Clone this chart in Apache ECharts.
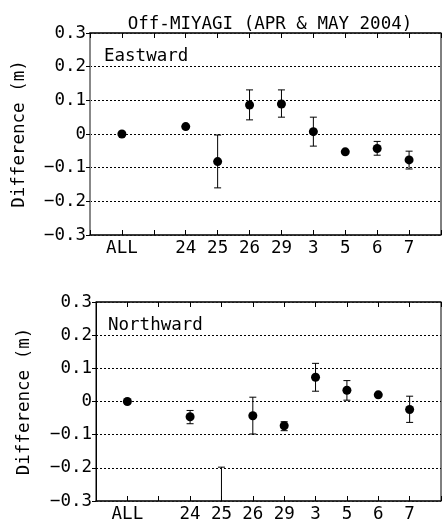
<!DOCTYPE html>
<html>
<head>
<meta charset="utf-8">
<script src="https://cdn.jsdelivr.net/npm/echarts@6/dist/echarts.min.js"></script>
<style>
  html, body { margin: 0; padding: 0; background: #fff; }
  #chart { width: 444px; height: 523px; }
</style>
</head>
<body>
<div id="chart"></div>
<script>
// tick labels along the x axis (value positions 0..11)
const xLabels = ['', 'ALL', '', '24', '25', '26', '29', '3', '5', '6', '7', ''];
const dayPos = [1, 3, 4, 5, 6, 7, 8, 9, 10];

// Eastward difference (m) and error bar ends
const eastVal = [0, 0.022, -0.082, 0.086, 0.089, 0.007, -0.053, -0.043, -0.077];
const eastLo  = [null, null, -0.160, 0.042, 0.050, -0.036, null, -0.063, -0.104];
const eastHi  = [null, null, -0.003, 0.131, 0.131, 0.050, null, -0.022, -0.051];

// Northward difference (m) and error bar ends
const northVal = [0, -0.046, -0.42, -0.043, -0.073, 0.073, 0.034, 0.020, -0.024];
const northLo  = [null, -0.067, -0.64, -0.098, -0.088, 0.031, 0.004, null, -0.063];
const northHi  = [null, -0.027, -0.198, 0.013, -0.061, 0.115, 0.063, null, 0.016];

const FONT = '"DejaVu Sans Mono", "Liberation Mono", monospace';

const fmtY = v => {
    if (Math.abs(v) < 1e-9) return '0';
    return (v < 0 ? '\u2212' : '') + Math.abs(v).toFixed(1);
};

const points = (vals) => dayPos.map((x, i) => [x, vals[i]]);
const bars = (lo, hi) => dayPos.map((x, i) => [x, lo[i], hi[i]]).filter(d => d[1] !== null);

const errRender = (params, api) => {
    const top = api.coord([api.value(0), api.value(2)]);
    const bot = api.coord([api.value(0), api.value(1)]);
    const cap = 3.5;
    const style = { stroke: '#000', lineWidth: 1 };
    return {
        type: 'group',
        children: [
            { type: 'line', shape: { x1: top[0], y1: top[1], x2: bot[0], y2: bot[1] }, style },
            { type: 'line', shape: { x1: top[0] - cap, y1: top[1], x2: top[0] + cap, y2: top[1] }, style },
            { type: 'line', shape: { x1: bot[0] - cap, y1: bot[1], x2: bot[0] + cap, y2: bot[1] }, style }
        ]
    };
};

const xBottom = (gi) => ({
    type: 'value', gridIndex: gi, min: 0, max: 11, interval: 1, position: 'bottom',
    axisLine: { show: true, onZero: false, lineStyle: { color: '#222', width: 1.5 } },
    axisTick: { show: true, inside: true, length: 5, lineStyle: { color: '#000' } },
    axisLabel: {
        margin: 4, color: '#000', fontSize: 17.5, fontFamily: FONT,
        formatter: v => xLabels[Math.round(v)] || ''
    },
    splitLine: { show: false }
});
const xTop = (gi) => ({
    type: 'value', gridIndex: gi, min: 0, max: 11, interval: 1, position: 'top',
    axisLine: { show: true, onZero: false, lineStyle: { color: '#222', width: 1.5 } },
    axisTick: { show: true, inside: true, length: 5, lineStyle: { color: '#000' } },
    axisLabel: { show: false },
    splitLine: { show: false }
});
const yLeft = (gi, lineColor, lineWidth, gap) => ({
    type: 'value', gridIndex: gi, min: -0.3, max: 0.3, interval: 0.1,
    name: 'Difference (m)', nameLocation: 'middle', nameRotate: 90, nameGap: gap,
    nameTextStyle: { color: '#000', fontSize: 17.5, fontFamily: FONT },
    axisLine: { show: true, onZero: false, lineStyle: { color: lineColor, width: lineWidth } },
    axisTick: { show: true, inside: false, length: 4, lineStyle: { color: '#000' } },
    axisLabel: { margin: 4, color: '#000', fontSize: 17.5, fontFamily: FONT, formatter: fmtY },
    splitLine: { show: true, lineStyle: { color: '#000', type: [2, 2], width: 1 } }
});

const chart = echarts.init(document.getElementById('chart'));
chart.setOption({
    backgroundColor: '#fff',
    animation: false,
    title: {
        text: 'Off-MIYAGI (APR & MAY 2004)',
        left: 265, top: 10, textAlign: 'center',
        textStyle: { color: '#000', fontSize: 17.5, fontWeight: 'normal', fontFamily: FONT }
    },
    grid: [
        { left: 90, top: 33, width: 351, height: 202, show: true, borderColor: '#000', borderWidth: 1 },
        { left: 96, top: 302, right: -3, height: 202, show: true, borderColor: '#000', borderWidth: 1 }
    ],
    xAxis: [xBottom(0), xTop(0), xBottom(1), xTop(1)],
    yAxis: [yLeft(0, '#888', 2, 62), yLeft(1, '#000', 1, 63)],
    graphic: [
        { type: 'text', left: 104, top: 47, style: { text: 'Eastward', fill: '#000', font: '17.5px ' + FONT } },
        { type: 'text', left: 108, top: 316, style: { text: 'Northward', fill: '#000', font: '17.5px ' + FONT } }
    ],
    series: [
        { type: 'custom', xAxisIndex: 0, yAxisIndex: 0, clip: true, renderItem: errRender, data: bars(eastLo, eastHi), z: 3 },
        { type: 'scatter', xAxisIndex: 0, yAxisIndex: 0, symbolSize: 9, itemStyle: { color: '#000', opacity: 1 }, data: points(eastVal), z: 4 },
        { type: 'custom', xAxisIndex: 2, yAxisIndex: 1, clip: true, renderItem: errRender, data: bars(northLo, northHi), z: 3 },
        { type: 'scatter', xAxisIndex: 2, yAxisIndex: 1, symbolSize: 9, clip: true, itemStyle: { color: '#000', opacity: 1 }, data: points(northVal), z: 4 }
    ]
});
</script>
</body>
</html>
